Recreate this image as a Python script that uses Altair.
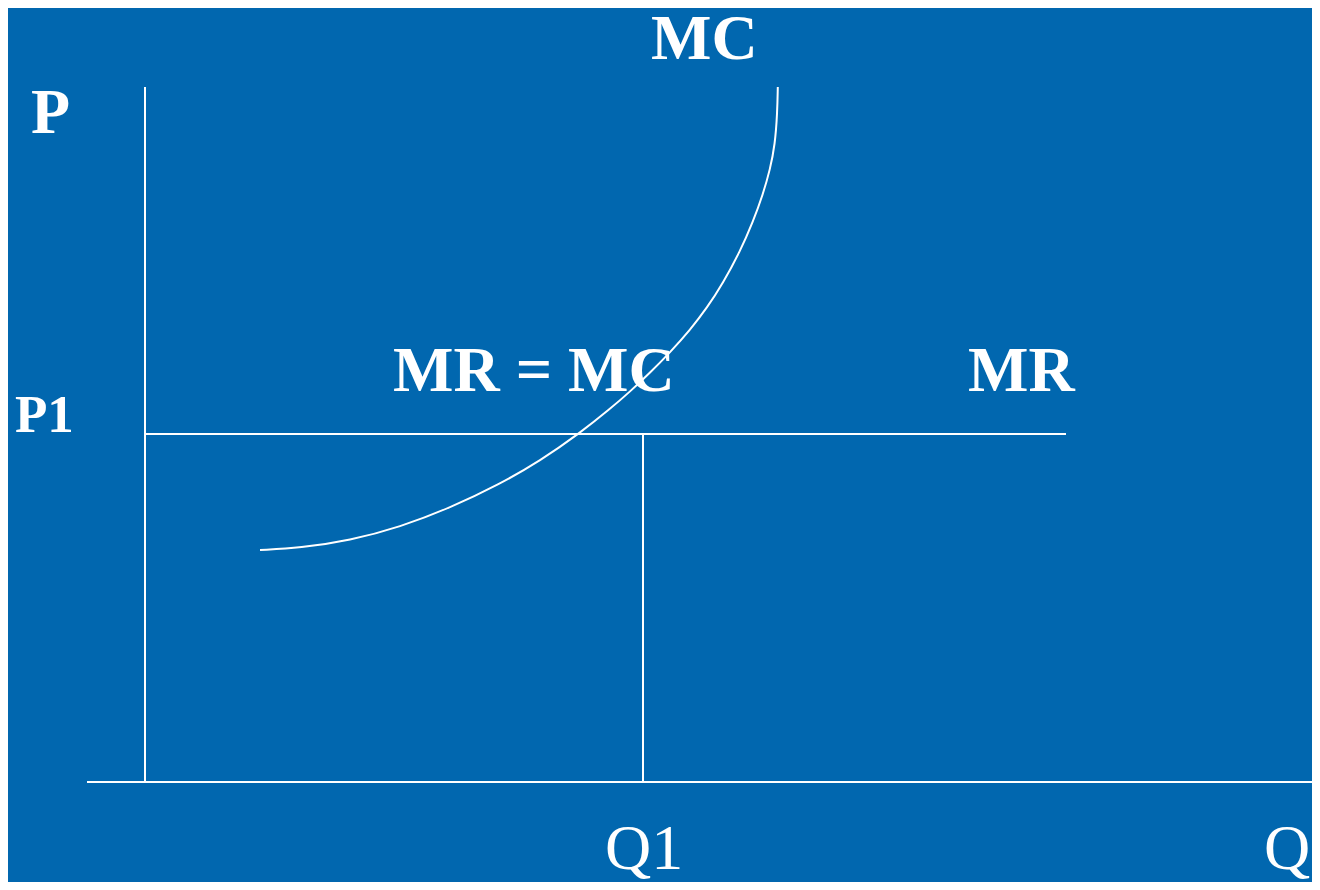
import altair as alt
import pandas as pd

# ---- data (economic units: Q horizontal, P vertical) ----
mc_q = [1.15, 1.55, 2.05, 2.55, 3.05, 3.55, 3.95, 4.35, 4.65, 4.85, 5.05, 5.25, 5.45, 5.62, 5.78,
        5.95, 6.08, 6.18, 6.25, 6.30, 6.323, 6.328]
mc_p = [2.32, 2.34, 2.415, 2.55, 2.74, 2.98, 3.21, 3.49, 3.73, 3.904, 4.092, 4.296, 4.52, 4.741, 4.989,
        5.304, 5.603, 5.878, 6.123, 6.373, 6.695, 6.95]

seg_name = ["P axis", "Q axis", "MR", "Q1 drop"]
seg_q1 = [0.0, -0.58, 0.0, 4.98]
seg_q2 = [0.0, 11.68, 9.21, 4.98]
seg_p1 = [0.0, 0.0, 3.48, 0.0]
seg_p2 = [6.95, 0.0, 3.48, 3.48]

lab_text = ["MC", "P", "MR = MC", "MR", "P1", "Q1", "Q"]
lab_q = [5.06, -1.14, 2.48, 8.23, -1.30, 4.60, 11.19]
lab_p = [7.23, 6.49, 3.91, 3.91, 3.50, -0.87, -0.87]
lab_weight = ["bold", "bold", "bold", "bold", "bold", "normal", "normal"]
lab_size = [64, 64, 64, 64, 53, 64, 64]

BG = "#0167AF"
FONT = "Liberation Serif"

mc_df = pd.DataFrame({"Q": mc_q, "P": mc_p})
seg_df = pd.DataFrame({"name": seg_name, "q1": seg_q1, "q2": seg_q2, "p1": seg_p1, "p2": seg_p2})
lab_df = pd.DataFrame({"text": lab_text, "Q": lab_q, "P": lab_p, "w": lab_weight, "s": lab_size})

xs = alt.Scale(domain=[-1.37, 11.67], nice=False, zero=False)
ys = alt.Scale(domain=[-1.00, 7.74], nice=False, zero=False)

segs = alt.Chart(seg_df).mark_rule(color="white", strokeWidth=2).encode(
    x=alt.X("q1:Q", scale=xs, axis=None),
    x2="q2:Q",
    y=alt.Y("p1:Q", scale=ys, axis=None),
    y2="p2:Q",
)

mc = alt.Chart(mc_df).mark_line(color="white", strokeWidth=2, interpolate="basis").encode(
    x=alt.X("Q:Q", scale=xs, axis=None),
    y=alt.Y("P:Q", scale=ys, axis=None),
    order=alt.Order("Q:Q"),
)

def labels(weight):
    d = lab_df[lab_df["w"] == weight]
    return alt.Chart(d).mark_text(
        color="white", font=FONT, fontWeight=weight, align="left", baseline="alphabetic"
    ).encode(
        x=alt.X("Q:Q", scale=xs, axis=None),
        y=alt.Y("P:Q", scale=ys, axis=None),
        text="text:N",
        size=alt.Size("s:Q", scale=None, legend=None),
    )

chart = alt.layer(segs, mc, labels("bold"), labels("normal")).properties(
    width=1304, height=874, background=BG, padding=0,
    autosize=alt.AutoSizeParams(type="none"),
).configure_view(stroke=None, fill=BG)

chart.save("out.html", embed_options={"renderer": "svg", "actions": False})
